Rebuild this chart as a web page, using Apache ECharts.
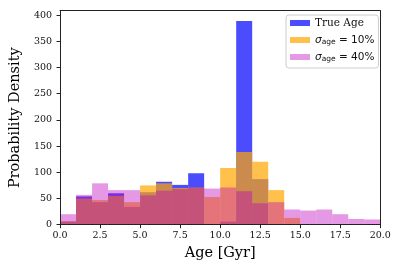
<!DOCTYPE html>
<html>
<head>
<meta charset="utf-8">
<script src="https://cdn.jsdelivr.net/npm/echarts@6/dist/echarts.min.js"></script>
<style>html,body{margin:0;padding:0;background:#fff}#c{width:399px;height:267px}</style>
</head>
<body>
<div id="c"></div>
<script>
// Histogram bins (Gyr): left edges, width 1
const binLeft = [0,1,2,3,4,5,6,7,8,9,10,11,12,13,14,15,16,17,18,19];
const binWidth = 1;
// Probability density per bin
const trueAge = [6,54,43,60,34,62,82,76,98,0,6,389,87,0,0,0,0,0,0,0];
const sigma10 = [6,50,47,55,43,75,79,70,71,53,108,139,120,66,13,0,0,0,0,0];
const sigma40 = [20,57,79,66,66,56,65,68,71,69,71,64,41,43,29,27,29,20,11,10];
const xTicks = [0,2.5,5,7.5,10,12.5,15,17.5,20];
const yTicks = [0,50,100,150,200,250,300,350,400];

const serif = 'DejaVu Serif';
const sans = 'DejaVu Sans';

function toData(vals){
  return binLeft.map((l,i)=>[l, l+binWidth, vals[i]]).filter(d=>d[2]>0);
}
function histSeries(name, vals, color){
  return {
    type:'custom', name:name, data:toData(vals),
    encode:{x:[0,1], y:2},
    itemStyle:{color:color},
    silent:true,
    renderItem:function(params, api){
      const p0 = api.coord([api.value(0), api.value(2)]);
      const p1 = api.coord([api.value(1), 0]);
      return {type:'rect', shape:{x:p0[0], y:p0[1], width:p1[0]-p0[0], height:p1[1]-p0[1]},
              style:{fill:color}};
    }
  };
}

const chart = echarts.init(document.getElementById('c'), null, {renderer:'canvas'});
const legendNames = {'True Age':'{t|True Age}', 's10':'{i|σ}{s|age}{n| = 10%}', 's40':'{i|σ}{s|age}{n| = 40%}'};
chart.setOption({
  animation:false,
  grid:{left:51.7, right:18.7, top:10.7, bottom:42.3, containLabel:false},
  xAxis:[{
    type:'value', min:0, max:20, interval:2.5, z:10,
    name:'Age [Gyr]', nameLocation:'middle', nameGap:20,
    nameTextStyle:{fontFamily:serif, fontSize:14.5, color:'#000'},
    axisLine:{show:true, onZero:false, lineStyle:{color:'#222', width:1}},
    axisTick:{show:true, length:3.5, lineStyle:{color:'#222', width:1}},
    axisLabel:{fontFamily:serif, fontSize:9.5, color:'#111', margin:6, formatter:v=>v.toFixed(1)},
    splitLine:{show:false}
  },{
    type:'value', min:0, max:20, position:'top', z:10,
    axisLine:{show:true, onZero:false, lineStyle:{color:'#222', width:1}},
    axisTick:{show:false}, axisLabel:{show:false}, splitLine:{show:false}
  }],
  yAxis:[{
    type:'value', min:0, max:408.5, z:10,
    name:'Probability Density', nameLocation:'middle', nameGap:31,
    nameTextStyle:{fontFamily:serif, fontSize:14.5, color:'#000'},
    axisLine:{show:true, onZero:false, lineStyle:{color:'#222', width:1}},
    axisTick:{show:true, length:3.5, customValues:yTicks, lineStyle:{color:'#222', width:1}},
    axisLabel:{fontFamily:serif, fontSize:9.5, color:'#111', margin:8, customValues:yTicks},
    splitLine:{show:false}
  },{
    type:'value', min:0, max:408.5, position:'right', z:10,
    axisLine:{show:true, onZero:false, lineStyle:{color:'#222', width:1}},
    axisTick:{show:false}, axisLabel:{show:false}, splitLine:{show:false}
  }],
  legend:{
    orient:'vertical', left:286, top:15, padding:[2,4,5,4],
    backgroundColor:'rgba(255,255,255,0.8)', borderColor:'#ccc', borderWidth:1, borderRadius:3,
    itemWidth:20, itemHeight:6, itemGap:4, itemTextGap:7, selectedMode:false,
    icon:'rect',
    data:['True Age','s10','s40'],
    formatter:n=>legendNames[n],
    textStyle:{
      lineHeight:12,
      rich:{
        t:{fontFamily:serif, fontSize:10.5, color:'#111', lineHeight:12},
        i:{fontFamily:sans, fontStyle:'italic', fontSize:10.5, color:'#111', lineHeight:12},
        s:{fontFamily:sans, fontSize:7.5, color:'#111', lineHeight:12, verticalAlign:'bottom', padding:[5,0,0,0]},
        n:{fontFamily:sans, fontSize:10.5, color:'#111', lineHeight:12}
      }
    }
  },
  series:[
    histSeries('True Age', trueAge, 'rgba(0,0,255,0.7)'),
    histSeries('s10', sigma10, 'rgba(255,165,0,0.7)'),
    histSeries('s40', sigma40, 'rgba(191,0,191,0.4)')
  ]
});
</script>
</body>
</html>
